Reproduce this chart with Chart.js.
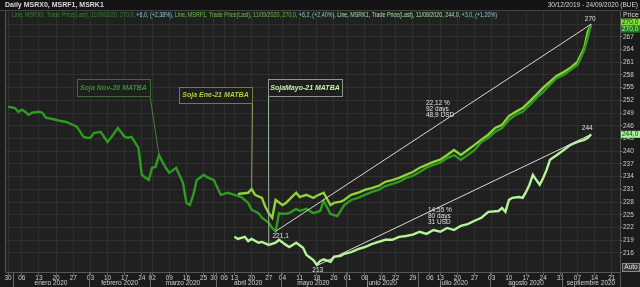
<!DOCTYPE html>
<html><head><meta charset="utf-8">
<script src="https://cdn.jsdelivr.net/npm/chart.js@4"></script>
<style>html,body{margin:0;padding:0;background:#1f1f1f;overflow:hidden}canvas{display:block}</style>
</head><body>
<canvas id="c" width="640" height="287"></canvas>
<script>
// x values are trading-day indices counted from 30/12/2019
const weekTickIdx = [0,4,9,14,19,24,29,34,39,42,47,52,57,60,63,66,71,76,80,85,90,95,99,104,109,113,118,123,126,131,136,141,146,151,156,161,166,171,176];
const weekTickLabels = ['30','06','13','20','27','03','10','17','24','02','09','16','25','30','06','13','20','27','04','11','18','26','01','08','16','22','29','06','13','20','27','03','10','17','24','31','07','14','21'];
const monthNames = ['enero 2020','febrero 2020','marzo 2020','abril 2020','mayo 2020','junio 2020','julio 2020','agosto 2020','septiembre 2020'];
const monthBounds = [1.5,23.5,41.5,60.5,79.5,98.5,119.5,140.5,161.5,178.4];
const priceTicks = [216,219,222,225,228,231,234,237,240,243,246,249,252,255,258,261,264,267,270];

// MSRX0 - Soja Nov-20 MATBA
const nov20Idx = [0,2,3,4,5,6,7,9,10,11,13,15,17,19,20,22,23,24,25,27,29,30,32,34,35,36,38,39,41,42,43,44,45,46,47,49,51,52,53,54,55,57,58,60,62,64,66,68,70,71,73,74,76,77,78,79,80,82,84,85,87,89,91,92,94,96,98,100,102,104,106,108,110,112,114,116,118,120,122,124,126,128,130,132,134,136,138,140,142,144,146,148,150,152,154,156,158,160,162,164,166,168,169,170];
const nov20Val = [250.5,250.2,249.3,249.8,249.3,248.6,249.1,249.3,249.1,247.9,247.6,247.2,246.9,246.2,245.8,243.4,243.2,243.2,244.3,244.6,242.2,243.2,245.5,243.4,243.2,243.4,240.8,234.4,233.2,236.1,236.3,239.1,237.5,236.1,234.9,236.1,232.5,227.8,227.3,229.7,233.2,234.4,233.9,233.2,229.7,230.2,229.7,229.2,227.8,226.2,225.4,224.3,223.1,221.9,221.1,225.4,225.2,225.4,226.4,225.9,226.4,225.4,225.9,228.3,225.2,224.7,227.3,228.5,229.0,229.7,230.4,230.9,231.8,232.3,232.8,233.7,234.2,235.1,236.1,236.8,237.3,238.4,239.1,238.0,239.1,240.3,242.2,243.2,244.6,245.5,247.4,248.6,249.3,250.9,252.6,254.0,255.7,257.3,258.0,259.2,260.4,263.9,266.8,270.0];

// MSRF1 - Soja Ene-21 MATBA
const ene21Idx = [67,70,71,72,74,75,76,77,78,80,81,84,85,87,89,90,92,94,95,97,98,100,102,104,106,108,110,112,114,116,118,120,122,124,126,128,130,132,134,136,138,140,142,144,146,148,150,152,154,156,158,160,162,164,166,168,169,170];
const ene21Val = [229.9,230.2,231.1,229.7,229.0,226.9,225.4,224.3,228.5,227.3,227.8,230.2,229.2,229.7,229.0,229.5,230.2,227.3,227.8,228.1,228.5,229.7,230.2,230.9,231.3,231.8,232.8,233.2,233.7,234.4,235.1,236.1,236.8,237.5,238.0,239.1,240.3,239.1,240.3,241.5,242.7,243.9,245.5,246.2,248.3,249.3,250.2,251.7,253.3,255.0,256.4,257.8,258.7,259.7,261.1,264.4,268.2,270.0];

// MSRK1 - SojaMayo-21 MATBA
const may21Idx = [66,67,69,70,71,73,74,76,78,79,81,82,84,86,87,89,90,91,92,94,95,97,98,100,102,104,106,108,110,112,114,116,118,120,122,124,126,128,130,132,134,136,138,140,143,144,145,146,147,149,150,151,152,153,154,155,156,157,158,160,162,164,166,168,169,170];
const may21Val = [219.8,219.3,219.8,218.8,219.3,218.4,218.6,217.9,218.4,219.1,217.9,217.4,218.4,217.2,215.5,214.3,213.2,214.1,214.5,213.9,215.1,215.3,215.8,216.2,216.9,217.4,218.1,218.6,219.1,219.1,219.8,220.0,220.3,221.0,220.5,221.4,221.0,221.9,221.4,222.4,222.8,223.6,224.3,225.7,225.9,226.6,225.7,228.5,229.0,229.2,229.0,230.4,232.1,234.4,233.2,232.1,233.7,235.6,238.0,239.1,240.3,241.5,242.2,242.7,243.2,244.0];

// trend studies: [startIdx, startVal, endIdx, endVal]
const trendNov = [78, 221.1, 170, 270];
const trendMay = [90, 213, 170, 244];

const C1 = '#2f9a22', C2 = '#8fd23a', C3 = '#b4f59a';
const FONT = '"Liberation Sans", Arial, sans-serif';
const pts = (xs, ys) => xs.map((x, i) => ({x, y: ys[i]}));
const at = (xs, ys, d) => ys[xs.indexOf(d)];

const deco = {
  id: 'deco',
  beforeDraw(ch) {
    const c = ch.ctx, a = ch.chartArea;
    c.save();
    c.fillStyle = '#1b1b1b'; c.fillRect(0, 0, 640, 287);
    c.fillStyle = '#202020'; c.fillRect(a.left, a.top, a.right - a.left, a.bottom - a.top);
    c.fillStyle = '#141414'; c.fillRect(0, 0, 640, 10);
    c.restore();
  },
  afterDraw(ch) {
    const c = ch.ctx, a = ch.chartArea, xs = ch.scales.x, ys = ch.scales.y;
    const X = v => xs.getPixelForValue(v), Y = v => ys.getPixelForValue(v);
    c.save();
    c.strokeStyle = '#555'; c.lineWidth = 1;
    c.beginPath(); c.moveTo(a.left + 0.5, a.top); c.lineTo(a.left + 0.5, a.bottom + 0.5); c.lineTo(a.right, a.bottom + 0.5); c.stroke();
    c.beginPath(); c.moveTo(a.right + 0.5, 10); c.lineTo(a.right + 0.5, 287); c.stroke();
    c.strokeStyle = '#444';
    c.beginPath(); c.moveTo(0, 10.5); c.lineTo(640, 10.5); c.stroke();

    c.textBaseline = 'middle';
    c.font = 'bold 7px ' + FONT; c.fillStyle = '#d8d8d8'; c.textAlign = 'left';
    c.fillText('Daily MSRX0, MSRF1, MSRK1', 5, 5.5);
    c.font = '6.5px ' + FONT; c.textAlign = 'right';
    c.fillText('30/12/2019 - 24/09/2020 (BUE)', 638, 5.5);

    const segs = [
      ['Line, MSRX0, Trade Price(Last), 11/09/2020, 270,0, ', '#2f8a2a'],
      ['+6,0, (+2,38%), ', '#7fd0d8'],
      ['Line, MSRF1, Trade Price(Last), 11/09/2020, 270,0, ', '#6cc040'],
      ['+6,2, (+2,40%), ', '#7fd0d8'],
      ['Line, MSRK1, Trade Price(Last), 11/09/2020, 244,0, ', '#9fe0a0'],
      ['+3,0, (+1,20%)', '#7fd0d8']
    ];
    c.font = '7px ' + FONT; c.textAlign = 'left';
    let tw = 0; segs.forEach(s => tw += c.measureText(s[0]).width);
    const k = 485 / tw;
    c.save(); c.translate(12, 15); c.scale(k, 1);
    let px = 0;
    segs.forEach(s => { c.fillStyle = s[1]; c.fillText(s[0], px, 0); px += c.measureText(s[0]).width; });
    c.restore();

    c.font = '6.5px ' + FONT; c.fillStyle = '#cfcfcf'; c.textAlign = 'center';
    for (let i = 0; i < monthNames.length; i++) {
      const mid = (X(monthBounds[i]) + X(monthBounds[i + 1])) / 2;
      c.fillText(monthNames[i], mid, 283.5);
      const bx = Math.round(X(monthBounds[i])) + 0.5;
      c.strokeStyle = '#6a6a6a'; c.beginPath(); c.moveTo(bx, a.bottom + 1); c.lineTo(bx, 287); c.stroke();
    }

    const box = (x, y, w, h, txt, col, border) => {
      c.fillStyle = '#1f1f1f'; c.fillRect(x, y, w, h);
      c.strokeStyle = border; c.lineWidth = 1; c.strokeRect(x + 0.5, y + 0.5, w, h);
      c.font = 'italic bold 7px ' + FONT; c.fillStyle = col; c.textAlign = 'center';
      c.fillText(txt, x + w / 2, y + h / 2 + 0.5);
    };
    const link = (x1, y1, x2, y2, col) => {
      c.strokeStyle = col; c.lineWidth = 1; c.beginPath(); c.moveTo(x1, y1); c.lineTo(x2, y2); c.stroke();
    };
    link(150, 96, X(44), Y(at(nov20Idx, nov20Val, 44)), '#4f7a40');
    link(252.5, 103, X(71), Y(at(ene21Idx, ene21Val, 71)), '#9a9a60');
    link(268.5, 96, X(76), Y(at(may21Idx, may21Val, 76)), '#a0b8a0');
    box(77, 79, 73, 17, 'Soja Nov-20 MATBA', '#2f9a22', '#3d6a35');
    box(179, 87, 73, 16, 'Soja Ene-21 MATBA', '#a8d040', '#7a7a3a');
    box(268, 79, 74, 17, 'SojaMayo-21 MATBA', '#c8f5b0', '#8a9a8a');

    c.strokeStyle = '#d8d8d8'; c.lineWidth = 1;
    [trendNov, trendMay].forEach(t => { c.beginPath(); c.moveTo(X(t[0]), Y(t[1])); c.lineTo(X(t[2]), Y(t[3])); c.stroke(); });
    c.font = '6.5px ' + FONT; c.fillStyle = '#e0e0e0'; c.textAlign = 'center';
    c.fillText('221,1', X(trendNov[0]) + 5, Y(trendNov[1]) + 5);
    c.fillText('270', X(trendNov[2]) - 1, Y(trendNov[3]) - 5);
    c.fillText('213', X(trendMay[0]) + 1, Y(trendMay[1]) + 5);
    c.fillText('244', X(trendMay[2]) - 4, Y(trendMay[3]) - 6);
    c.textAlign = 'left';
    ['22,12 %', '92 days', '48,9 USD'].forEach((s, i) => c.fillText(s, 426, 103 + i * 6));
    ['14,55 %', '80 days', '31 USD'].forEach((s, i) => c.fillText(s, 428, 210 + i * 6));

    const hl = (v, txt, bg, fg, dy) => {
      const y = Y(v) + dy;
      c.fillStyle = bg; c.fillRect(a.right + 1, y - 3.5, 19, 7);
      c.font = '6.5px ' + FONT; c.fillStyle = fg; c.textAlign = 'left';
      c.fillText(txt, a.right + 2, y);
    };
    hl(270, '270,0', '#7ee03a', '#10300a', -2);
    hl(270, '270,0', '#1f7a1a', '#b8f0a8', 5);
    hl(244, '244,0', '#a8f5a0', '#123012', 0);
    c.font = '7px ' + FONT; c.fillStyle = '#d8d8d8'; c.textAlign = 'center';
    c.fillText('Price', 631, 15);
    c.fillStyle = '#3a3a3a'; c.fillRect(622, 263, 17, 8);
    c.strokeStyle = '#888'; c.strokeRect(622.5, 263.5, 17, 8);
    c.fillStyle = '#e0e0e0'; c.font = '6.5px ' + FONT; c.fillText('Auto', 631, 267.5);
    c.restore();
  }
};

new Chart(document.getElementById('c'), {
  type: 'line',
  data: {
    datasets: [
      {data: pts(nov20Idx, nov20Val), borderColor: C1, borderWidth: 2.4},
      {data: pts(ene21Idx, ene21Val), borderColor: C2, borderWidth: 2.4},
      {data: pts(may21Idx, may21Val), borderColor: C3, borderWidth: 2.4}
    ]
  },
  options: {
    responsive: false, animation: false,
    elements: {point: {radius: 0}, line: {tension: 0}},
    layout: {padding: {top: 11, left: 5, right: 0, bottom: 0}},
    plugins: {legend: {display: false}, tooltip: {enabled: false}},
    scales: {
      x: {
        type: 'linear', min: -0.9, max: 178.4,
        afterBuildTicks: s => { s.ticks = weekTickIdx.map(v => ({value: v})); },
        afterFit: s => { s.height = 15; },
        ticks: {autoSkip: false, maxRotation: 0, padding: -1, color: '#cfcfcf', font: {family: FONT, size: 6.5},
          callback: (v) => weekTickLabels[weekTickIdx.indexOf(v)]},
        grid: {color: '#2f2f2f', tickColor: '#666', tickLength: 3},
        border: {display: false}
      },
      y: {
        position: 'right', min: 211.5, max: 273.1,
        afterBuildTicks: s => { s.ticks = priceTicks.map(v => ({value: v})); },
        afterFit: s => { s.width = 20; },
        ticks: {padding: 1, color: '#cfcfcf', font: {family: FONT, size: 6.5},
          callback: v => v === 270 ? '' : String(v)},
        grid: {color: '#2f2f2f', tickColor: '#888', tickLength: 2},
        border: {display: false}
      }
    }
  },
  plugins: [deco]
});
</script>
</body></html>
